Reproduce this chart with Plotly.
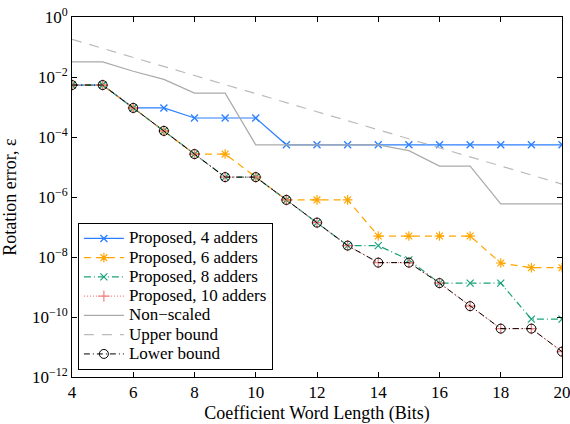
import plotly.graph_objects as go

bits = list(range(4, 21))

prop4 = [5.4e-3, 5.4e-3, 9.3e-4, 9.3e-4, 4.3e-4, 4.3e-4, 4.3e-4, 5.5e-5, 5.5e-5, 5.5e-5,
         5.5e-5, 5.5e-5, 5.5e-5, 5.5e-5, 5.5e-5, 5.5e-5, 5.5e-5]
prop6 = [5.4e-3, 5.4e-3, 9.3e-4, 1.6e-4, 2.7e-5, 2.7e-5, 4.6e-6, 8e-7, 8e-7, 8e-7,
         5e-8, 5e-8, 5e-8, 5e-8, 6.3e-9, 4.4e-9, 4.4e-9]
prop8 = [5.4e-3, 5.4e-3, 9.3e-4, 1.6e-4, 2.7e-5, 4.6e-6, 4.6e-6, 8e-7, 1.4e-7, 2.4e-8,
         2.4e-8, 8e-9, 1.35e-9, 1.35e-9, 1.35e-9, 8.5e-11, 8.5e-11]
prop10 = [5.4e-3, 5.4e-3, 9.3e-4, 1.6e-4, 2.7e-5, 4.6e-6, 4.6e-6, 8e-7, 1.4e-7, 2.4e-8,
          6.5e-9, 6.5e-9, 1.35e-9, 2.3e-10, 4.1e-11, 4.1e-11, 7e-12]
nonscaled = [3.2e-2, 3.2e-2, 1.55e-2, 8.3e-3, 2.9e-3, 2.9e-3, 5.5e-5, 5.5e-5, 5.5e-5, 5.5e-5,
             5.5e-5, 3.5e-5, 1.07e-5, 1.07e-5, 5.9e-7, 5.9e-7, 5.9e-7]
upper = [0.18, 0.09, 0.045, 0.022, 0.011, 5.6e-3, 2.8e-3, 1.4e-3, 7e-4, 3.5e-4,
         1.75e-4, 8.8e-5, 4.4e-5, 2.2e-5, 1.1e-5, 5.5e-6, 2.7e-6]
lower = [5.4e-3, 5.4e-3, 9.3e-4, 1.6e-4, 2.7e-5, 4.6e-6, 4.6e-6, 8e-7, 1.4e-7, 2.4e-8,
         6.5e-9, 6.5e-9, 1.35e-9, 2.3e-10, 4.1e-11, 4.1e-11, 7e-12]

xticks = [4, 6, 8, 10, 12, 14, 16, 18, 20]
yticks = [1, 1e-2, 1e-4, 1e-6, 1e-8, 1e-10, 1e-12]
yticktext = ["10<sup>0</sup>", "10<sup>−2</sup>", "10<sup>−4</sup>", "10<sup>−6</sup>",
             "10<sup>−8</sup>", "10<sup>−10</sup>", "10<sup>−12</sup>"]

names = ["Proposed, 4 adders", "Proposed, 6 adders", "Proposed, 8 adders",
         "Proposed, 10 adders", "Non−scaled", "Upper bound", "Lower bound"]


def lbl(s):
    return "<span style='font-size:17px'>" + s + "</span>"


fig = go.Figure()
fig.add_trace(go.Scatter(x=bits, y=prop4, name=lbl(names[0]), mode="lines+markers",
                         line=dict(color="#2a7fff", width=1.2),
                         marker=dict(symbol="x-thin-open", size=7, line=dict(color="#2a7fff", width=1.3))))
fig.add_trace(go.Scatter(x=bits, y=prop6, name=lbl(names[1]), mode="lines+markers",
                         line=dict(color="#ffa500", width=1.2, dash="7px,5px"),
                         marker=dict(symbol="asterisk-open", size=8, line=dict(color="#ffa500", width=1.2))))
fig.add_trace(go.Scatter(x=bits, y=prop8, name=lbl(names[2]), mode="lines+markers",
                         line=dict(color="#1aa37a", width=1.2, dash="7px,3px,1px,3px"),
                         marker=dict(symbol="x-thin-open", size=7, line=dict(color="#1aa37a", width=1.2))))
fig.add_trace(go.Scatter(x=bits, y=prop10, name=lbl(names[3]), mode="lines+markers",
                         line=dict(color="#f08080", width=1.2, dash="1px,2px"),
                         marker=dict(symbol="cross-thin-open", size=8, line=dict(color="#e03030", width=1.2))))
fig.add_trace(go.Scatter(x=bits, y=nonscaled, name=lbl(names[4]), mode="lines",
                         line=dict(color="#aaaaaa", width=1.2)))
fig.add_trace(go.Scatter(x=bits, y=upper, name=lbl(names[5]), mode="lines",
                         line=dict(color="#bbbbbb", width=1.2, dash="10px,8px")))
fig.add_trace(go.Scatter(x=bits, y=lower, name=lbl(names[6]), mode="lines+markers",
                         line=dict(color="black", width=1.0, dash="6px,3px,1px,3px"),
                         marker=dict(symbol="circle-open", size=9, line=dict(color="black", width=1.0))))

font = "Liberation Serif"
fig.update_layout(
    width=570, height=424,
    margin=dict(l=72, r=8, t=17, b=47, autoexpand=False),
    paper_bgcolor="white", plot_bgcolor="white",
    font=dict(family=font, size=16, color="black"),
    showlegend=True,
    legend=dict(x=0.012, y=0.02, xanchor="left", yanchor="bottom",
                bgcolor="white", bordercolor="black", borderwidth=1,
                font=dict(family=font, size=12.5), itemwidth=40,
                tracegroupgap=0, traceorder="normal"),
)
fig.update_xaxes(range=[4, 20], tickvals=xticks, ticks="inside", ticklen=5, tickcolor="black",
                 showline=True, linecolor="black", linewidth=1, mirror="ticks", showgrid=False,
                 zeroline=False, tickfont=dict(family=font, size=17), automargin=False,
                 ticklabeloverflow="allow",
                 title=dict(text="Coefficient Word Length (Bits)", font=dict(family=font, size=18)))
fig.update_yaxes(type="log", range=[-12, 0], tickvals=yticks, ticktext=yticktext,
                 ticks="inside", ticklen=5, tickcolor="black",
                 showline=True, linecolor="black", linewidth=1, mirror="ticks", showgrid=False,
                 zeroline=False, tickfont=dict(family=font, size=17), automargin=False,
                 ticklabeloverflow="allow",
                 title=dict(text="Rotation error, ε", font=dict(family=font, size=18)))

fig.write_html("out.html", config={"displayModeBar": False},
               post_script="document.body.style.margin='0';")
